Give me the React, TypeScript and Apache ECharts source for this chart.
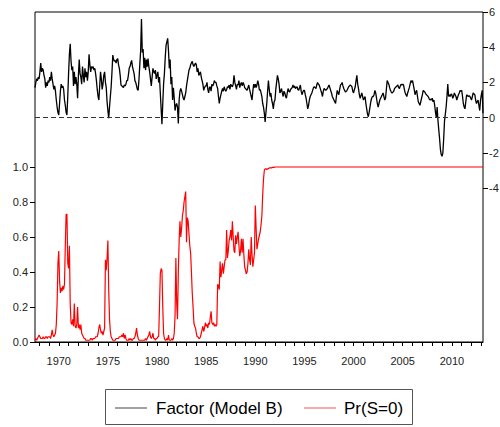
import React, { useEffect, useRef } from "react";
import * as echarts from "echarts";

// Monthly data, first observation 1967-08, last 2013-03
const START_YEAR = 1967;
const START_MONTH = 8;

const factorModelB = [
  1.7, 2.0, 2.2, 2.1, 2.3, // 1967 Aug-Dec
  2.2, 2.6, 3.1, 2.6, 2.8, 2.7, 2.4, 2.2, 1.7, 2.0, 1.8, 2.1, // 1968
  2.0, 2.3, 2.1, 2.6, 2.2, 1.9, 1.6, 1.8, 1.5, 1.0, 0.6, 0.3, // 1969
  0.15, 0.8, 1.5, 1.9, 1.7, 1.8, 1.6, 1.0, 0.7, 0.3, 0.15, 1.2, // 1970
  2.5, 3.6, 4.2, 3.2, 2.7, 2.9, 1.8, 2.6, 1.9, 2.3, 1.9, 1.1, // 1971
  2.4, 3.3, 2.5, 2.3, 1.9, 2.9, 2.4, 2.0, 2.8, 2.3, 2.6, 2.1, // 1972
  2.6, 3.6, 3.0, 2.6, 2.9, 2.8, 2.9, 2.7, 2.8, 2.5, 2.1, 1.6, // 1973
  1.2, 1.0, 1.8, 2.6, 2.2, 1.6, 1.9, 2.4, 2.6, 2.0, 1.7, 0.9, // 1974
  0.4, -0.03, 0.6, 1.2, 1.75, 2.6, 3.55, 3.3, 3.2, 3.25, 3.1, 3.3, // 1975
  3.35, 3.0, 2.8, 2.4, 1.85, 1.8, 1.75, 1.7, 1.85, 1.8, 1.9, 2.1, // 1976
  2.1, 2.4, 2.8, 2.9, 3.1, 3.25, 2.9, 2.7, 2.5, 2.1, 2.0, 1.8, // 1977
  1.6, 1.55, 2.2, 3.05, 3.8, 5.6, 3.7, 3.9, 2.8, 3.4, 2.7, 3.3, // 1978
  2.9, 3.35, 2.9, 2.6, 2.2, 1.8, 2.3, 2.8, 2.6, 2.5, 2.7, 2.2, // 1979
  2.4, 2.6, 2.0, 2.3, 1.4, 0.5, -0.37, 0.8, 1.9, 2.5, 3.4, 4.1, // 1980
  4.3, 4.5, 3.8, 2.8, 3.3, 1.9, 2.3, 1.0, 1.7, 1.1, 0.4, 0.7, // 1981
  0.8, 0.6, -0.33, 1.0, 1.5, 1.65, 1.5, 1.3, 1.1, 1.0, 1.2, 1.4, // 1982
  1.8, 2.1, 2.4, 2.7, 2.8, 3.0, 3.1, 3.2, 3.0, 2.9, 3.0, 3.1, // 1983
  3.0, 2.6, 2.8, 2.4, 2.5, 2.6, 2.3, 2.1, 1.9, 1.55, 1.7, 1.8, // 1984
  1.8, 2.0, 1.6, 1.4, 1.7, 1.75, 1.5, 1.9, 1.8, 1.9, 2.1, 2.0, // 1985
  2.0, 1.8, 1.65, 1.2, 0.8, 1.1, 1.3, 1.5, 1.65, 1.5, 1.75, 1.6, // 1986
  1.5, 1.6, 1.75, 1.7, 1.85, 1.6, 1.9, 1.8, 1.75, 1.9, 2.4, 2.0, // 1987
  1.8, 1.6, 1.9, 1.85, 2.1, 1.7, 1.9, 2.0, 1.8, 2.0, 1.9, 1.7, // 1988
  1.65, 1.6, 1.55, 1.7, 1.85, 1.6, 1.4, 1.2, 1.0, 1.5, 1.9, 1.7, // 1989
  1.9, 1.7, 1.85, 2.1, 1.9, 1.55, 1.6, 1.4, 1.2, 0.8, 0.6, 0.25, // 1990
  -0.25, 0.3, 0.8, 1.5, 2.1, 1.6, 1.2, 1.4, 1.0, 0.8, 0.5, 0.9, // 1991
  1.0, 1.6, 2.0, 2.4, 2.2, 1.9, 1.4, 1.5, 1.65, 1.4, 1.2, 1.5, // 1992
  1.4, 1.2, 1.1, 1.4, 1.65, 1.5, 1.45, 1.6, 1.65, 1.7, 1.85, 1.7, // 1993
  1.8, 1.65, 1.7, 1.75, 1.6, 1.55, 1.7, 1.85, 1.5, 1.3, 1.45, 1.55, // 1994
  1.55, 1.3, 1.1, 0.8, 0.5, 0.7, 1.0, 1.2, 1.3, 1.4, 1.55, 1.7, // 1995
  1.75, 1.7, 1.65, 1.85, 2.0, 1.9, 1.85, 1.7, 1.55, 1.4, 1.2, 1.5, // 1996
  1.65, 1.6, 1.55, 1.6, 1.65, 1.75, 1.85, 1.7, 1.55, 1.4, 1.2, 1.1, // 1997
  1.0, 0.9, 0.8, 1.2, 1.55, 1.4, 1.3, 1.6, 1.85, 1.9, 2.0, 1.8, // 1998
  1.65, 1.55, 1.45, 1.5, 1.55, 1.65, 1.75, 1.8, 1.85, 1.8, 1.75, 1.5, // 1999
  1.4, 1.6, 1.75, 2.1, 2.4, 1.9, 1.65, 1.3, 1.1, 1.25, 1.4, 1.2, // 2000
  1.0, 1.1, 1.2, 0.8, 0.5, 0.2, 0.05, 0.3, 0.6, 0.9, 1.1, 1.2, // 2001
  1.2, 1.3, 1.55, 1.4, 1.1, 0.8, 0.6, 0.8, 1.0, 1.1, 1.2, 1.3, // 2002
  1.4, 1.2, 1.0, 1.1, 1.6, 2.1, 2.0, 1.9, 1.7, 1.55, 1.45, 1.4, // 2003
  1.45, 1.5, 1.65, 1.7, 1.75, 1.8, 1.85, 1.7, 1.65, 1.8, 1.9, 1.85, // 2004
  1.9, 1.85, 1.6, 1.4, 1.3, 1.2, 1.4, 1.55, 1.7, 1.9, 2.1, 2.0, // 2005
  2.1, 1.85, 1.6, 1.3, 1.45, 1.55, 1.2, 0.9, 0.8, 0.7, 0.9, 1.1, // 2006
  1.3, 1.55, 1.5, 1.45, 1.35, 1.3, 1.25, 1.2, 1.1, 1.0, 1.05, 1.0, // 2007
  1.1, 0.9, 1.0, 0.7, 0.3, 0.0, 0.6, -0.15, -0.7, -1.2, -1.8, -2.1, // 2008
  -2.2, -2.0, -1.2, -0.2, 0.2, 0.6, 1.2, 1.9, 1.2, 1.3, 1.2, 1.35, // 2009
  1.3, 1.1, 1.2, 1.4, 1.3, 1.2, 1.0, 1.15, 1.3, 1.4, 1.55, 1.5, // 2010
  1.55, 1.2, 0.8, 0.6, 0.5, 0.9, 1.3, 1.25, 1.2, 1.25, 1.2, 1.1, // 2011
  1.0, 1.2, 1.4, 1.35, 1.3, 1.0, 0.8, 0.9, 1.0, 0.7, 0.4, 1.0, // 2012
  1.3, 1.55, 0.25, // 2013 Jan-Mar
];

const prS0 = [
  0.01, 0.02, 0.01, 0.02, 0.03, // 1967 Aug-Dec
  0.04, 0.03, 0.02, 0.02, 0.02, 0.03, 0.02, 0.02, 0.03, 0.03, 0.02, 0.03, // 1968
  0.03, 0.03, 0.02, 0.04, 0.07, 0.04, 0.03, 0.04, 0.05, 0.1, 0.22, 0.45, // 1969
  0.52, 0.35, 0.28, 0.31, 0.29, 0.32, 0.3, 0.33, 0.55, 0.73, 0.73, 0.45, // 1970
  0.42, 0.55, 0.22, 0.11, 0.1, 0.13, 0.09, 0.22, 0.09, 0.08, 0.1, 0.2, // 1971
  0.08, 0.1, 0.07, 0.1, 0.05, 0.04, 0.03, 0.02, 0.02, 0.01, 0.01, 0.01, // 1972
  0.01, 0.01, 0.01, 0.02, 0.02, 0.01, 0.02, 0.02, 0.02, 0.03, 0.03, 0.03, // 1973
  0.05, 0.08, 0.1, 0.07, 0.05, 0.06, 0.04, 0.06, 0.08, 0.47, 0.41, 0.48, // 1974
  0.58, 0.3, 0.13, 0.06, 0.03, 0.02, 0.01, 0.01, 0.01, 0.01, 0.02, 0.02, // 1975
  0.02, 0.02, 0.03, 0.03, 0.03, 0.04, 0.03, 0.05, 0.02, 0.04, 0.02, 0.01, // 1976
  0.01, 0.01, 0.02, 0.01, 0.02, 0.01, 0.01, 0.02, 0.02, 0.03, 0.05, 0.08, // 1977
  0.04, 0.02, 0.01, 0.01, 0.01, 0.01, 0.01, 0.01, 0.01, 0.01, 0.02, 0.01, // 1978
  0.02, 0.03, 0.04, 0.06, 0.03, 0.02, 0.03, 0.05, 0.02, 0.02, 0.01, 0.02, // 1979
  0.02, 0.03, 0.03, 0.2, 0.39, 0.42, 0.41, 0.2, 0.05, 0.02, 0.01, 0.01, // 1980
  0.02, 0.01, 0.04, 0.01, 0.01, 0.01, 0.02, 0.01, 0.02, 0.05, 0.15, 0.48, // 1981
  0.22, 0.13, 0.4, 0.58, 0.69, 0.6, 0.65, 0.72, 0.75, 0.8, 0.83, 0.86, // 1982
  0.57, 0.71, 0.69, 0.62, 0.55, 0.51, 0.4, 0.28, 0.2, 0.11, 0.09, 0.08, // 1983
  0.05, 0.03, 0.03, 0.02, 0.02, 0.03, 0.05, 0.07, 0.09, 0.06, 0.08, 0.11, // 1984
  0.09, 0.1, 0.08, 0.11, 0.1, 0.14, 0.175, 0.11, 0.1, 0.11, 0.09, 0.1, // 1985
  0.09, 0.1, 0.33, 0.32, 0.3, 0.46, 0.37, 0.41, 0.45, 0.39, 0.43, 0.47, // 1986
  0.47, 0.64, 0.48, 0.52, 0.58, 0.6, 0.64, 0.58, 0.69, 0.6, 0.52, 0.51, // 1987
  0.61, 0.56, 0.6, 0.63, 0.55, 0.49, 0.52, 0.59, 0.51, 0.59, 0.5, 0.43, // 1988
  0.41, 0.39, 0.4, 0.45, 0.53, 0.47, 0.44, 0.6, 0.5, 0.43, 0.47, 0.51, // 1989
  0.78, 0.65, 0.53, 0.56, 0.59, 0.61, 0.63, 0.67, 0.72, 0.84, 0.93, 0.98, // 1990
  0.99, 0.99, 0.985, 0.99, 0.99, 0.995, 0.995, 0.995, 0.995, 0.998, 0.998, 0.998, // 1991
  1, 1, 1, 1, 1, 1, 1, 1, 1, 1, 1, 1, // 1992
  1, 1, 1, 1, 1, 1, 1, 1, 1, 1, 1, 1, // 1993
  1, 1, 1, 1, 1, 1, 1, 1, 1, 1, 1, 1, // 1994
  1, 1, 1, 1, 1, 1, 1, 1, 1, 1, 1, 1, // 1995
  1, 1, 1, 1, 1, 1, 1, 1, 1, 1, 1, 1, // 1996
  1, 1, 1, 1, 1, 1, 1, 1, 1, 1, 1, 1, // 1997
  1, 1, 1, 1, 1, 1, 1, 1, 1, 1, 1, 1, // 1998
  1, 1, 1, 1, 1, 1, 1, 1, 1, 1, 1, 1, // 1999
  1, 1, 1, 1, 1, 1, 1, 1, 1, 1, 1, 1, // 2000
  1, 1, 1, 1, 1, 1, 1, 1, 1, 1, 1, 1, // 2001
  1, 1, 1, 1, 1, 1, 1, 1, 1, 1, 1, 1, // 2002
  1, 1, 1, 1, 1, 1, 1, 1, 1, 1, 1, 1, // 2003
  1, 1, 1, 1, 1, 1, 1, 1, 1, 1, 1, 1, // 2004
  1, 1, 1, 1, 1, 1, 1, 1, 1, 1, 1, 1, // 2005
  1, 1, 1, 1, 1, 1, 1, 1, 1, 1, 1, 1, // 2006
  1, 1, 1, 1, 1, 1, 1, 1, 1, 1, 1, 1, // 2007
  1, 1, 1, 1, 1, 1, 1, 1, 1, 1, 1, 1, // 2008
  1, 1, 1, 1, 1, 1, 1, 1, 1, 1, 1, 1, // 2009
  1, 1, 1, 1, 1, 1, 1, 1, 1, 1, 1, 1, // 2010
  1, 1, 1, 1, 1, 1, 1, 1, 1, 1, 1, 1, // 2011
  1, 1, 1, 1, 1, 1, 1, 1, 1, 1, 1, 1, // 2012
  1, 1, 1, // 2013 Jan-Mar
];

const yearLabels = [1970, 1975, 1980, 1985, 1990, 1995, 2000, 2005, 2010];
const seriesNames = ["Factor (Model B)", "Pr(S=0)"];

export default function App() {
  const ref = useRef<HTMLDivElement>(null);

  useEffect(() => {
    if (!ref.current) return;
    const chart = echarts.init(ref.current, null, { renderer: "svg" });
    const months = factorModelB.map((_, i) => {
      const m0 = START_MONTH - 1 + i;
      const y = START_YEAR + Math.floor(m0 / 12);
      const m = (m0 % 12) + 1;
      return `${y}-${String(m).padStart(2, "0")}`;
    });
    const isJan = (v: string) => v.endsWith("-01");
    const font = '"Liberation Sans", Arial, Helvetica, sans-serif';
    const baseX = { type: "category", data: months, boundaryGap: false };
    const legendCommon = {
      top: 398,
      padding: 0,
      itemWidth: 32,
      itemHeight: 1,
      icon: "rect",
      selectedMode: false,
    };

    chart.setOption({
      animation: false,
      textStyle: { fontFamily: font },
      grid: [
        { left: 35, top: 12, width: 448, height: 330, show: true, borderColor: "#000", borderWidth: 1, backgroundColor: "transparent", outerBoundsMode: "none" },
        { left: 35, top: 167, width: 448, height: 175, outerBoundsMode: "none" },
        { left: 35, top: 12, width: 448, height: 176, outerBoundsMode: "none" },
      ],
      xAxis: [
        {
          ...baseX,
          gridIndex: 0,
          axisLine: { show: true, lineStyle: { color: "#000", width: 1 } },
          axisTick: { show: true, interval: (_i: number, v: string) => isJan(v), length: 4, inside: false, lineStyle: { color: "#000" } },
          axisLabel: {
            interval: (_i: number, v: string) => isJan(v) && yearLabels.includes(Number(v.slice(0, 4))),
            formatter: (v: string) => v.slice(0, 4),
            margin: 13,
            fontSize: 11,
            color: "#222",
            fontFamily: font,
          },
          splitLine: { show: false },
        },
        { ...baseX, gridIndex: 1, show: false },
        { ...baseX, gridIndex: 2, show: false },
      ],
      yAxis: [
        { type: "value", gridIndex: 0, min: 0, max: 1, show: false, splitLine: { show: false } },
        {
          type: "value",
          gridIndex: 1,
          position: "left",
          min: 0,
          max: 1,
          interval: 0.2,
          axisLine: { show: false },
          axisTick: { show: true, length: 5, lineStyle: { color: "#000" } },
          axisLabel: { formatter: (v: number) => v.toFixed(1), margin: 7, fontSize: 11, color: "#222", fontFamily: font },
          splitLine: { show: false },
        },
        {
          type: "value",
          gridIndex: 2,
          position: "right",
          min: -4,
          max: 6,
          interval: 2,
          axisLine: { show: false },
          axisTick: { show: true, length: 5, lineStyle: { color: "#000" } },
          axisLabel: { margin: 6, fontSize: 11, color: "#222", fontFamily: font },
          splitLine: { show: false },
        },
      ],
      legend: [
        {
          ...legendCommon,
          data: [seriesNames[0]],
          left: 115,
          itemStyle: { color: "#444" },
          textStyle: { fontSize: 17, color: "#000", fontFamily: font, lineHeight: 20, padding: [0, 0, 0, 4] },
        },
        {
          ...legendCommon,
          data: [seriesNames[1]],
          left: 304,
          itemStyle: { color: "#ff5555" },
          textStyle: { fontSize: 17, color: "#000", fontFamily: font, lineHeight: 20, padding: [0, 0, 0, 3] },
        },
      ],
      graphic: [
        {
          type: "rect",
          silent: true,
          shape: { x: 105.5, y: 389.5, width: 307, height: 35 },
          style: { fill: "none", stroke: "#555", lineWidth: 1 },
        },
      ],
      series: [
        {
          name: seriesNames[0],
          type: "line",
          xAxisIndex: 2,
          yAxisIndex: 2,
          data: factorModelB,
          symbol: "none",
          clip: false,
          lineStyle: { color: "#000", width: 1.3 },
          itemStyle: { color: "#000" },
          markLine: {
            silent: true,
            symbol: "none",
            label: { show: false },
            lineStyle: { color: "#333", type: [5, 3], width: 1 },
            data: [{ yAxis: 0 }],
          },
        },
        {
          name: seriesNames[1],
          type: "line",
          xAxisIndex: 1,
          yAxisIndex: 1,
          data: prS0,
          symbol: "none",
          clip: false,
          lineStyle: { color: "#ff0000", width: 1.2 },
          itemStyle: { color: "#ff0000" },
        },
      ],
    });
    return () => chart.dispose();
  }, []);

  return <div ref={ref} style={{ position: "absolute", left: 0, top: 0, width: 500, height: 427 }} />;
}
